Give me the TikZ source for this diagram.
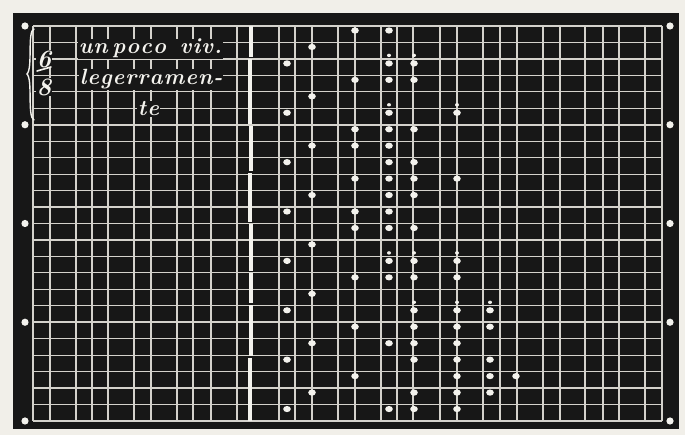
\documentclass[tikz,border=0pt]{standalone}
\definecolor{paper}{HTML}{F1EFE9}
\definecolor{board}{HTML}{171717}
\definecolor{gridc}{HTML}{D4D2CC}
\definecolor{chalk}{HTML}{F3F2ED}
\newcommand\ls{\kern1pt}
\begin{document}
\begin{tikzpicture}[x=1pt,y=-1pt,
  gridline/.style={draw=gridc,line width=1.2pt},
  heavyline/.style={draw=gridc,line width=1.7pt},
  chalkdot/.style={fill=chalk},
  txt/.style={text=chalk,fill=board,inner sep=0.6pt,font=\fontsize{22}{22}\selectfont\bfseries\itshape}]
\useasboundingbox (0,0) rectangle (685,435);
\fill[paper] (0,0) rectangle (685,435);
\fill[board] (13,13) rectangle (679,429);
% vertical grid lines
\foreach \x in {33,50,76,92,108,134,151,177,193,211,237,279,295,312,338,355,381,397,413,440,457,483,500,517,543,560,585,603,619,645,662}
  \draw[gridline] (\x,26) -- (\x,421);
% horizontal grid lines
\foreach \k in {0,...,24}
  \draw[gridline] (33,{26+16.458*\k}) -- (662,{26+16.458*\k});
\foreach \k in {6,12,18}
  \draw[heavyline] (33,{26+16.458*\k}) -- (662,{26+16.458*\k});
% bar line
\foreach \a/\b/\xx in {26/57/250.5, 59/124/250, 126/171/250.5, 173/222/250, 224/271/250.5, 273/303/251, 305/356/250.5, 358/421/250}
  \fill[chalk] ({\xx-2},\a) rectangle ({\xx+2},\b);
% edge dots
\foreach \k in {0,6,12,18,24}{
  \fill[chalkdot] (25,{26+16.458*\k}) circle [radius=3.6];
  \fill[chalkdot] (670,{26+16.458*\k}) circle [radius=3.6];
}
% brace
\draw[chalk,line width=1.4pt,line cap=round] (34,29) .. controls (27,31) and (33,68) .. (27,74) .. controls (33,80) and (27,117) .. (34,120);
% time signature
\node[txt] (six) at (44,59) {\fontsize{25}{25}\selectfont 6};
\node[txt] (eight) at (44,87) {\fontsize{25}{25}\selectfont 8};
\draw[chalk,line width=1.6pt,line cap=round] (37,71) -- (51,67);
% text
\node[txt,anchor=base west] (t1) at (78,54) {u\ls n\ls\,p\ls o\ls c\ls o\ls\ \,v\ls i\ls v\ls .};
\node[txt,anchor=base west] (t2) at (79,85) {l\ls e\ls g\ls e\ls r\ls r\ls a\ls m\ls e\ls n\ls -};
\node[txt,anchor=base west] (t3) at (137,116) {t\ls e};
% main dots
\foreach \c/\r in {355/0,389/0, 312/1, 287/2,389/2,414/2, 355/3,389/3,414/3, 312/4,
  287/5,389/5,457/5, 355/6,389/6,414/6, 312/7,355/7,389/7, 287/8,389/8,414/8,
  355/9,389/9,414/9,457/9, 312/10,389/10,414/10, 287/11,355/11,389/11,
  355/12,389/12,414/12, 312/13, 287/14,389/14,414/14,457/14,
  355/15,389/15,414/15,457/15, 312/16, 287/17,414/17,457/17,490/17,
  355/18,414/18,457/18,490/18, 312/19,389/19,414/19,457/19,
  287/20,414/20,457/20,490/20, 355/21,457/21,490/21,516/21,
  312/22,414/22,457/22,490/22, 287/23,389/23,414/23,457/23}
  \fill[chalkdot] (\c,{26+16.458*\r+4.5}) ellipse [x radius=3.8, y radius=3.1];
% small dots
\foreach \c/\r in {389/2,414/2, 389/5,457/5, 389/14,414/14,457/14, 414/17,457/17,490/17}
  \fill[chalkdot] (\c,{26+16.458*\r-3.5}) ellipse [x radius=2, y radius=1.7];
\end{tikzpicture}
\end{document}
